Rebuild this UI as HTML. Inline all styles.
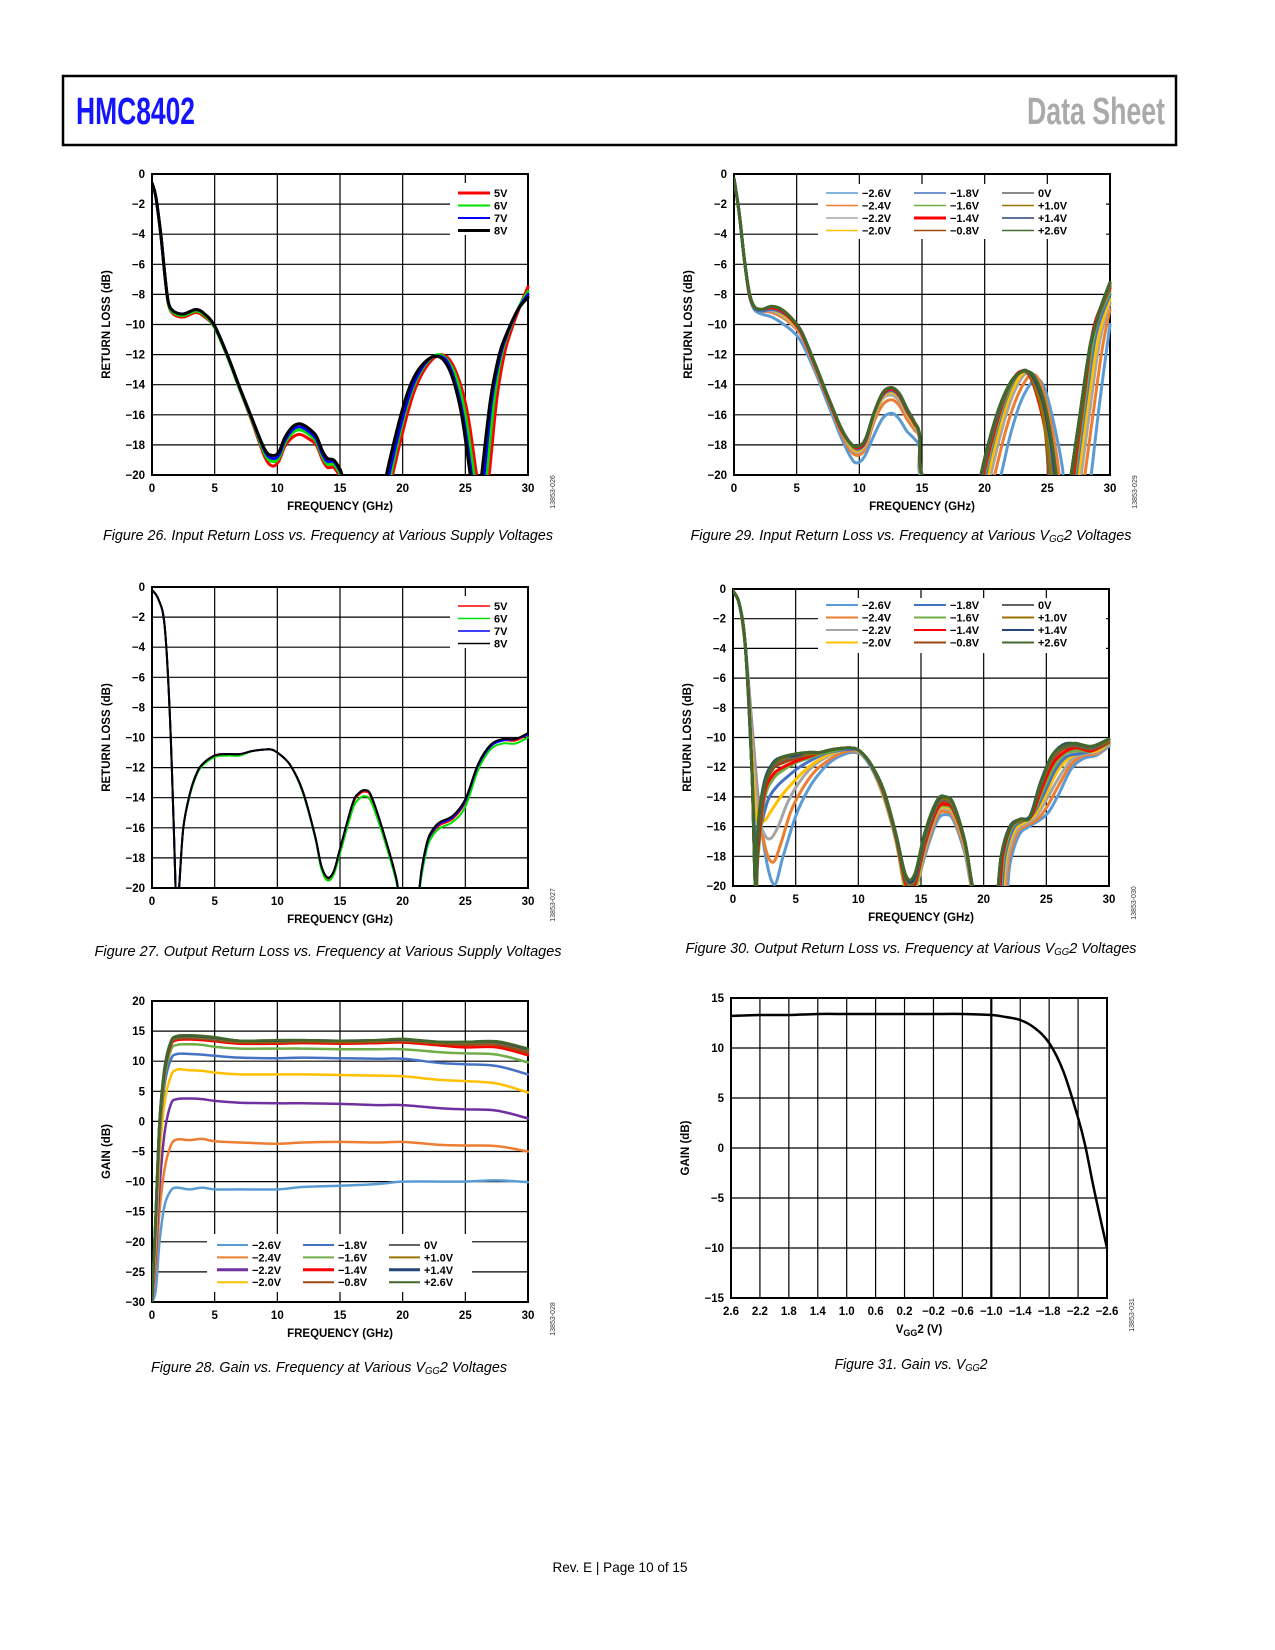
<!DOCTYPE html>
<html><head><meta charset="utf-8"><style>
html,body{margin:0;padding:0;background:#fff;}
svg{display:block;font-family:"Liberation Sans",sans-serif;}
</style></head><body>
<svg id="page" width="1275" height="1650" viewBox="0 0 1275 1650" xmlns="http://www.w3.org/2000/svg">
<rect x="63" y="76" width="1113" height="69" fill="none" stroke="#000" stroke-width="2.5"/>
<text x="76" y="124" font-size="38" font-weight="bold" fill="#1414ff" textLength="119" lengthAdjust="spacingAndGlyphs" font-family="Liberation Sans Narrow, Liberation Sans, sans-serif">HMC8402</text>
<text x="1027" y="124" font-size="38" font-weight="bold" fill="#aaaaaa" textLength="138" lengthAdjust="spacingAndGlyphs" font-family="Liberation Sans Narrow, Liberation Sans, sans-serif">Data Sheet</text>
<text x="620" y="1572" font-size="14" text-anchor="middle" textLength="135" lengthAdjust="spacingAndGlyphs">Rev. E | Page 10 of 15</text>
</svg>
<script>
// ---------- Figure 26 data ----------
const f26_5V=[[0,-0.6],[0.3,-1.5],[0.7,-4],[1,-6.5],[1.3,-8.6],[1.7,-9.3],[2.5,-9.5],[3.5,-9.2],[4.2,-9.5],[5,-10.2],[6,-12.1],[7,-14.3],[8,-16.5],[9,-18.8],[9.6,-19.4],[10.1,-19.1],[10.6,-18.1],[11.2,-17.5],[11.8,-17.3],[12.5,-17.6],[13.1,-18.0],[13.6,-19.0],[14,-19.5],[14.5,-19.5],[15,-20.1],[15.6,-21],[18.8,-22],[19.2,-20],[20.2,-16.5],[20.9,-14.5],[21.6,-13.2],[22.4,-12.3],[23.1,-12],[23.8,-12.4],[24.5,-13.7],[25.2,-16],[25.9,-20],[26.3,-22],[26.5,-22],[26.9,-20],[27.5,-15],[28.1,-12],[28.7,-10.3],[29.4,-8.7],[30,-7.5]];
const f26_6V=[[0,-0.6],[0.3,-1.5],[0.7,-4],[1,-6.5],[1.3,-8.6],[1.7,-9.2],[2.5,-9.4],[3.5,-9.1],[4.2,-9.4],[5,-10.2],[6,-12.1],[7,-14.3],[8,-16.4],[9,-18.6],[9.6,-19.1],[10.1,-18.9],[10.6,-17.9],[11.2,-17.2],[11.8,-17.0],[12.5,-17.3],[13.1,-17.8],[13.6,-18.8],[14,-19.3],[14.5,-19.3],[15,-19.9],[15.6,-20.8],[18.7,-22],[19.05,-20],[20.0,-16.5],[20.7,-14.5],[21.4,-13.2],[22.2,-12.3],[22.9,-12],[23.6,-12.4],[24.3,-13.6],[25.0,-16],[25.7,-20],[26.1,-22],[26.4,-22],[26.7,-20],[27.3,-15],[27.9,-12],[28.5,-10.4],[29.3,-8.8],[30,-7.8]];
const f26_7V=[[0,-0.6],[0.3,-1.5],[0.7,-4],[1,-6.5],[1.3,-8.5],[1.7,-9.1],[2.5,-9.3],[3.5,-9.0],[4.2,-9.3],[5,-10.1],[6,-12],[7,-14.2],[8,-16.3],[9,-18.4],[9.6,-18.9],[10.1,-18.7],[10.6,-17.7],[11.2,-17.0],[11.8,-16.8],[12.5,-17.1],[13.1,-17.6],[13.6,-18.6],[14,-19.1],[14.5,-19.1],[15,-19.7],[15.6,-20.6],[18.5,-22],[18.9,-20],[19.9,-16.5],[20.6,-14.5],[21.3,-13.2],[22.1,-12.3],[22.8,-12.1],[23.5,-12.4],[24.1,-13.6],[24.8,-16],[25.5,-20],[25.9,-22],[26.2,-22],[26.5,-20],[27.1,-15],[27.8,-12],[28.4,-10.5],[29.2,-9],[30,-8.0]];
const f26_8V=[[0,-0.6],[0.3,-1.5],[0.7,-4],[1,-6.5],[1.3,-8.5],[1.7,-9.1],[2.5,-9.3],[3.5,-9],[4.2,-9.3],[5,-10.1],[6,-12],[7,-14.2],[8,-16.3],[9,-18.3],[9.6,-18.7],[10.1,-18.5],[10.6,-17.5],[11.2,-16.8],[11.8,-16.6],[12.5,-16.9],[13.1,-17.4],[13.6,-18.4],[14,-18.9],[14.5,-19],[15,-19.6],[15.6,-20.5],[18.3,-22],[18.7,-20],[19.7,-16.5],[20.4,-14.5],[21.1,-13.2],[21.9,-12.4],[22.6,-12.1],[23.3,-12.4],[24,-13.6],[24.7,-16],[25.4,-20],[25.8,-22],[26.0,-22],[26.3,-20],[27.0,-15],[27.7,-12],[28.3,-10.6],[29.2,-9],[30,-8.2]];
// ---------- Figure 27 data ----------
const f27_5V=[[0,-0.2],[0.5,-0.8],[1,-2.5],[1.4,-8],[1.7,-15],[1.9,-20.5],[2.0,-22],[2.2,-19.5],[2.5,-16],[3,-13.8],[3.5,-12.5],[4,-11.8],[5,-11.2],[6,-11.1],[7,-11.1],[8,-10.9],[9,-10.8],[9.5,-10.8],[10,-11],[11,-11.8],[12,-13.5],[13,-16.5],[13.5,-18.6],[14,-19.4],[14.5,-19],[15,-17.5],[16,-14.5],[16.5,-13.8],[17,-13.6],[17.5,-14],[18.5,-16.5],[19.5,-19.5],[20,-22],[21,-22],[21.5,-19],[22,-17],[22.5,-16.2],[23,-15.8],[24,-15.4],[25,-14.3],[26,-12],[27,-10.6],[28,-10.2],[29,-10.2],[30,-9.8]];
const f27_6V=[[0,-0.2],[0.5,-0.8],[1,-2.5],[1.4,-8],[1.7,-15],[1.9,-20.5],[2.0,-22],[2.2,-19.5],[2.5,-16],[3,-13.9],[3.5,-12.6],[4,-11.9],[5,-11.3],[6,-11.2],[7,-11.2],[8,-10.9],[9,-10.8],[9.5,-10.8],[10,-11],[11,-11.8],[12,-13.6],[13,-16.6],[13.5,-18.7],[14,-19.5],[14.5,-19.1],[15,-17.7],[16,-14.8],[16.5,-14.1],[17,-13.9],[17.5,-14.3],[18.5,-16.7],[19.5,-19.6],[20,-22],[21,-22],[21.5,-19.2],[22,-17.2],[22.5,-16.4],[23,-16],[24,-15.6],[25,-14.6],[26,-12.2],[27,-10.8],[28,-10.4],[29,-10.4],[30,-10]];
const f27_7V=[[0,-0.2],[0.5,-0.8],[1,-2.5],[1.4,-8],[1.7,-15],[1.9,-20.5],[2.0,-22],[2.2,-19.5],[2.5,-16],[3,-13.8],[3.5,-12.5],[4,-11.8],[5,-11.2],[6,-11.1],[7,-11.1],[8,-10.9],[9,-10.8],[9.5,-10.8],[10,-11],[11,-11.8],[12,-13.5],[13,-16.5],[13.5,-18.5],[14,-19.3],[14.5,-18.9],[15,-17.4],[16,-14.4],[16.5,-13.7],[17,-13.5],[17.5,-13.9],[18.5,-16.4],[19.5,-19.4],[20,-22],[21,-22],[21.5,-18.9],[22,-16.9],[22.5,-16.1],[23,-15.7],[24,-15.3],[25,-14.2],[26,-11.9],[27,-10.6],[28,-10.2],[29,-10.1],[30,-9.8]];
const f27_8V=[[0,-0.2],[0.5,-0.8],[1,-2.5],[1.4,-8],[1.7,-15],[1.9,-20.5],[2.0,-22],[2.2,-19.5],[2.5,-16],[3,-13.8],[3.5,-12.5],[4,-11.8],[5,-11.2],[6,-11.1],[7,-11.1],[8,-10.9],[9,-10.8],[9.5,-10.8],[10,-11],[11,-11.8],[12,-13.5],[13,-16.5],[13.5,-18.5],[14,-19.3],[14.5,-18.9],[15,-17.4],[16,-14.4],[16.5,-13.7],[17,-13.5],[17.5,-13.9],[18.5,-16.4],[19.5,-19.4],[20,-22],[21,-22],[21.5,-18.8],[22,-16.8],[22.5,-16],[23,-15.6],[24,-15.2],[25,-14.1],[26,-11.8],[27,-10.5],[28,-10.1],[29,-10.1],[30,-9.7]];
// ---------- Figure 29 data ----------
const f29_m26=[[0,-0.3],[0.4,-2.5],[0.8,-5.5],[1.2,-8],[1.6,-9],[2.2,-9.3],[3,-9.5],[3.8,-9.9],[4.6,-10.4],[5.4,-11.2],[6.5,-13.2],[7.5,-15.3],[8.5,-17.4],[9.3,-18.8],[9.8,-19.2],[10.4,-18.8],[11.2,-17.3],[11.9,-16.2],[12.6,-15.9],[13.2,-16.3],[13.8,-17.1],[14.4,-17.6],[14.8,-18.2],[15.3,-20.5],[20.6,-22],[21.3,-20],[22,-17.5],[22.8,-15.3],[23.6,-14],[24.2,-13.6],[24.8,-14.3],[25.5,-16.5],[26.2,-19.5],[26.5,-22],[28.2,-22],[28.5,-20],[29.2,-15],[30,-10]];
const f29_m24=[[0,-0.3],[0.4,-2.5],[0.8,-5.5],[1.2,-7.9],[1.6,-8.9],[2.2,-9.1],[3,-9.2],[3.8,-9.5],[4.6,-10],[5.4,-10.8],[6.5,-13],[7.5,-15],[8.5,-17.1],[9.3,-18.4],[9.9,-18.7],[10.5,-18.2],[11.2,-16.4],[11.9,-15.3],[12.6,-15],[13.2,-15.4],[13.8,-16.3],[14.4,-17],[14.8,-17.6],[15.3,-20.5],[20.2,-22],[20.8,-20],[21.6,-17.3],[22.4,-15.2],[23.2,-13.8],[23.8,-13.3],[24.4,-13.8],[25.1,-15.8],[25.8,-19],[26.3,-22],[27.7,-22],[28,-20],[28.8,-15],[29.4,-11.5],[30,-9]];
const f29_m22=[[0,-0.3],[0.4,-2.5],[0.8,-5.5],[1.2,-7.9],[1.6,-8.9],[2.2,-9.1],[3,-9.1],[3.8,-9.4],[4.6,-9.9],[5.4,-10.7],[6.5,-12.9],[7.5,-14.9],[8.5,-16.9],[9.3,-18.2],[9.9,-18.5],[10.5,-18],[11.2,-16.1],[11.9,-14.9],[12.6,-14.7],[13.2,-15.1],[13.8,-16],[14.4,-16.8],[14.8,-17.5],[15.3,-20.5],[20.0,-22],[20.5,-20],[21.3,-17.2],[22.1,-15],[22.9,-13.6],[23.5,-13.2],[24.1,-13.6],[24.8,-15.5],[25.5,-18.5],[26,-22],[27.4,-22],[27.7,-20],[28.5,-15],[29.2,-11],[30,-8.6]];
const f29_m20=[[0,-0.3],[0.4,-2.5],[0.8,-5.5],[1.2,-7.9],[1.6,-8.9],[2.2,-9.1],[3,-9],[3.8,-9.3],[4.6,-9.8],[5.4,-10.6],[6.5,-12.8],[7.5,-14.9],[8.5,-16.9],[9.3,-18.1],[9.9,-18.4],[10.5,-17.9],[11.2,-16],[11.9,-14.8],[12.6,-14.5],[13.2,-14.9],[13.8,-15.9],[14.4,-16.7],[14.8,-17.4],[15.3,-20.5],[19.9,-22],[20.3,-20],[21.1,-17.2],[21.9,-15],[22.7,-13.6],[23.3,-13.1],[23.9,-13.5],[24.6,-15.2],[25.3,-18],[25.9,-22],[27.2,-22],[27.5,-20],[28.3,-15],[29.1,-10.8],[30,-8.3]];
const f29_m18=[[0,-0.3],[0.4,-2.5],[0.8,-5.5],[1.2,-7.9],[1.6,-8.9],[2.2,-9.1],[3,-9],[3.8,-9.2],[4.6,-9.7],[5.4,-10.6],[6.5,-12.8],[7.5,-14.9],[8.5,-16.9],[9.3,-18],[9.9,-18.3],[10.5,-17.8],[11.2,-15.9],[11.9,-14.7],[12.6,-14.4],[13.2,-14.8],[13.8,-15.8],[14.4,-16.6],[14.8,-17.4],[15.3,-20.5],[19.8,-22],[20.1,-20],[20.9,-17.2],[21.7,-15],[22.5,-13.5],[23.1,-13.1],[23.7,-13.4],[24.4,-15],[25.1,-17.8],[25.7,-22],[27,-22],[27.3,-20],[28.1,-15],[28.9,-10.6],[30,-8]];
const f29_m16=[[0,-0.3],[0.4,-2.5],[0.8,-5.5],[1.2,-7.9],[1.6,-8.8],[2.2,-9],[3,-8.9],[3.8,-9.1],[4.6,-9.7],[5.4,-10.6],[6.5,-12.8],[7.5,-14.9],[8.5,-16.9],[9.3,-18],[9.9,-18.2],[10.5,-17.7],[11.2,-15.9],[11.9,-14.6],[12.6,-14.3],[13.2,-14.7],[13.8,-15.7],[14.4,-16.6],[14.8,-17.4],[15.3,-20.5],[19.6,-22],[20,-20],[20.8,-17.3],[21.6,-15.1],[22.4,-13.6],[23,-13.1],[23.6,-13.4],[24.3,-14.9],[25,-17.6],[25.6,-22],[26.9,-22],[27.2,-20],[28,-15],[28.8,-10.4],[30,-7.8]];
const f29_m14=[[0,-0.3],[0.4,-2.5],[0.8,-5.5],[1.2,-7.9],[1.6,-8.8],[2.2,-9],[3,-8.9],[3.8,-9.1],[4.6,-9.7],[5.4,-10.6],[6.5,-12.8],[7.5,-14.9],[8.5,-16.9],[9.3,-17.9],[9.9,-18.2],[10.5,-17.7],[11.2,-15.8],[11.9,-14.6],[12.6,-14.3],[13.2,-14.7],[13.8,-15.7],[14.4,-16.6],[14.8,-17.3],[15.3,-20.5],[19.5,-22],[19.9,-20],[20.7,-17.3],[21.5,-15.1],[22.3,-13.6],[22.9,-13.1],[23.5,-13.3],[24.2,-14.8],[24.9,-17.4],[25.5,-22],[26.8,-22],[27.1,-20],[27.9,-15],[28.7,-10.2],[30,-7.6]];
const f29_m08=[[0,-0.3],[0.4,-2.5],[0.8,-5.5],[1.2,-7.8],[1.6,-8.8],[2.2,-9],[3,-8.8],[3.8,-9],[4.6,-9.6],[5.4,-10.5],[6.5,-12.7],[7.5,-14.8],[8.5,-16.8],[9.3,-17.9],[9.9,-18.1],[10.5,-17.6],[11.2,-15.8],[11.9,-14.5],[12.6,-14.2],[13.2,-14.6],[13.8,-15.6],[14.4,-16.5],[14.8,-17.3],[15.3,-20.5],[19.4,-22],[19.8,-20],[20.6,-17.3],[21.4,-15.2],[22.2,-13.8],[22.8,-13.2],[23.4,-13.2],[24.1,-14.4],[24.8,-16.8],[25.4,-22],[26.7,-22],[27,-20],[27.8,-15.5],[28.5,-11],[30,-7.5]];
const f29_0V=[[0,-0.3],[0.4,-2.5],[0.8,-5.5],[1.2,-7.8],[1.6,-8.8],[2.2,-9],[3,-8.8],[3.8,-9],[4.6,-9.6],[5.4,-10.5],[6.5,-12.7],[7.5,-14.8],[8.5,-16.8],[9.3,-17.9],[9.9,-18.1],[10.5,-17.6],[11.2,-15.8],[11.9,-14.5],[12.6,-14.2],[13.2,-14.6],[13.8,-15.6],[14.4,-16.5],[14.8,-17.3],[15.3,-20.5],[19.4,-22],[19.8,-20],[20.6,-17.3],[21.4,-15.2],[22.2,-13.8],[22.8,-13.2],[23.4,-13.1],[24.1,-14.2],[24.8,-16.5],[25.5,-22],[26.6,-22],[26.9,-20],[27.7,-15.5],[28.4,-11.5],[29.2,-9.2],[30,-7.4]];
const f29_p10=[[0,-0.3],[0.4,-2.5],[0.8,-5.5],[1.2,-7.8],[1.6,-8.8],[2.2,-9],[3,-8.8],[3.8,-9],[4.6,-9.6],[5.4,-10.5],[6.5,-12.7],[7.5,-14.8],[8.5,-16.8],[9.3,-17.9],[9.9,-18.1],[10.5,-17.6],[11.2,-15.8],[11.9,-14.5],[12.6,-14.2],[13.2,-14.6],[13.8,-15.6],[14.4,-16.5],[14.8,-17.3],[15.3,-20.5],[19.3,-22],[19.7,-20],[20.5,-17.3],[21.3,-15.2],[22.1,-13.8],[22.8,-13.2],[23.4,-13.1],[24,-14],[24.7,-16.2],[25.5,-21],[25.9,-22],[26.6,-22],[26.9,-20],[27.6,-16],[28.3,-12],[29,-9.6],[30,-7.3]];
const f29_p14=[[0,-0.3],[0.4,-2.5],[0.8,-5.5],[1.2,-7.8],[1.6,-8.8],[2.2,-9],[3,-8.8],[3.8,-9],[4.6,-9.6],[5.4,-10.5],[6.5,-12.7],[7.5,-14.8],[8.5,-16.8],[9.3,-17.9],[9.9,-18.1],[10.5,-17.6],[11.2,-15.8],[11.9,-14.5],[12.6,-14.2],[13.2,-14.6],[13.8,-15.6],[14.4,-16.5],[14.8,-17.3],[15.3,-20.5],[19.3,-22],[19.7,-20],[20.5,-17.3],[21.3,-15.2],[22.1,-13.8],[22.8,-13.2],[23.4,-13.1],[24,-13.7],[24.7,-15.3],[25.4,-18.5],[25.9,-22],[26.6,-22],[26.9,-20],[27.6,-16],[28.3,-12],[29,-9.5],[30,-7.2]];
const f29_p26=[[0,-0.3],[0.4,-2.5],[0.8,-5.5],[1.2,-7.8],[1.6,-8.8],[2.2,-9],[3,-8.8],[3.8,-9],[4.6,-9.6],[5.4,-10.5],[6.5,-12.7],[7.5,-14.8],[8.5,-16.8],[9.3,-17.9],[9.9,-18.1],[10.5,-17.6],[11.2,-15.8],[11.9,-14.5],[12.6,-14.2],[13.2,-14.6],[13.8,-15.6],[14.4,-16.5],[14.8,-17.3],[15.3,-20.5],[19.3,-22],[19.7,-20],[20.5,-17.3],[21.3,-15.2],[22.1,-13.8],[22.8,-13.2],[23.4,-13.1],[24,-13.5],[24.7,-15],[25.3,-17.5],[25.8,-20.5],[26.1,-22],[26.6,-22],[26.9,-20],[27.6,-16],[28.3,-12],[29,-9.5],[30,-7.2]];
// ---------- Figure 30 data ----------
const f30_m26=[[0,-0.2],[0.5,-1],[1,-4],[1.5,-9],[2,-14],[2.6,-18],[3.3,-19.9],[4,-18],[5,-15.3],[6,-13.5],[7,-12.3],[8,-11.5],[9,-11.1],[9.6,-11],[10.3,-11.2],[11.2,-12.3],[12.2,-14.3],[13.2,-17.3],[14,-20.5],[14.5,-20.5],[15.3,-18],[16.3,-15.6],[17,-15.2],[17.6,-15.6],[18.5,-17.8],[19.4,-21],[21.5,-22],[22.1,-18.5],[22.8,-16.6],[23.6,-16],[24.4,-15.6],[25.2,-15],[26,-13.8],[27,-12.1],[28,-11.4],[29,-11.2],[30,-10.6]];
const f30_m24=[[0,-0.2],[0.5,-1],[1,-4],[1.5,-9.5],[2,-14.5],[2.6,-17.5],[3.2,-18.4],[3.8,-17.2],[4.6,-15],[5.5,-13.5],[6.5,-12.3],[7.5,-11.6],[8.5,-11.1],[9.4,-10.9],[10.2,-11.1],[11.1,-12.1],[12.1,-14.1],[13.1,-17.1],[13.9,-20.5],[14.5,-20.5],[15.3,-17.8],[16.3,-15.3],[17,-15],[17.6,-15.4],[18.5,-17.6],[19.4,-21],[21.4,-22],[22,-18.3],[22.7,-16.4],[23.5,-15.9],[24.3,-15.5],[25.1,-14.6],[26,-13.2],[27,-11.8],[28,-11.2],[29,-11.1],[30,-10.5]];
const f30_m22=[[0,-0.2],[0.5,-1],[1,-4],[1.5,-10],[2,-15],[2.5,-16.5],[3,-16.8],[3.6,-16],[4.4,-14.3],[5.3,-13],[6.3,-12],[7.3,-11.4],[8.3,-11],[9.3,-10.8],[10.1,-11],[11,-12],[12,-14],[13,-17],[13.8,-20.5],[14.5,-20.5],[15.3,-17.6],[16.3,-15.1],[17,-14.8],[17.6,-15.2],[18.5,-17.4],[19.4,-21],[21.3,-22],[21.9,-18.2],[22.6,-16.3],[23.4,-15.8],[24.2,-15.3],[25,-14.2],[26,-12.7],[27,-11.5],[28,-11.1],[29,-11],[30,-10.5]];
const f30_m20=[[0,-0.2],[0.5,-1],[1,-4],[1.5,-11],[1.9,-15.5],[2.5,-15.6],[3,-15],[3.8,-14],[4.6,-13.2],[5.5,-12.4],[6.5,-11.7],[7.5,-11.2],[8.5,-10.9],[9.3,-10.8],[10.1,-10.9],[11,-11.9],[12,-13.9],[13,-16.9],[13.8,-20.5],[14.5,-20.5],[15.3,-17.4],[16.3,-15],[17,-14.7],[17.6,-15.1],[18.5,-17.3],[19.4,-21],[21.2,-22],[21.8,-18],[22.5,-16.2],[23.3,-15.7],[24.1,-15.2],[24.9,-14],[25.8,-12.4],[26.8,-11.4],[28,-11],[29,-10.9],[30,-10.4]];
const f30_m18=[[0,-0.2],[0.5,-1],[1,-4],[1.5,-12],[1.8,-17],[2.2,-16],[2.8,-14.2],[3.5,-13.3],[4.4,-12.6],[5.3,-12],[6.3,-11.5],[7.3,-11.1],[8.3,-10.9],[9.3,-10.8],[10.1,-10.9],[11,-11.9],[12,-13.8],[13,-16.8],[13.8,-20.2],[14.5,-20.2],[15.3,-17.3],[16.3,-14.9],[17,-14.6],[17.6,-15],[18.5,-17.2],[19.4,-21],[21.1,-22],[21.7,-18],[22.4,-16.1],[23.2,-15.6],[24,-15.1],[24.8,-13.8],[25.7,-12.2],[26.6,-11.3],[27.6,-11.1],[28.6,-10.9],[30,-10.4]];
const f30_m16=[[0,-0.2],[0.5,-1],[1,-4],[1.5,-12],[1.8,-20.5],[2.0,-18],[2.5,-14.2],[3.2,-12.8],[4,-12.2],[5,-11.7],[6,-11.4],[7,-11.1],[8,-10.9],[9.3,-10.7],[10.1,-10.9],[11,-11.8],[12,-13.8],[13,-16.8],[13.8,-20.3],[14.5,-20.3],[15.3,-17.3],[16.3,-14.9],[17,-14.6],[17.6,-15],[18.5,-17.2],[19.4,-21],[21,-22],[21.6,-18],[22.3,-16],[23.1,-15.6],[23.9,-15.2],[24.7,-13.6],[25.6,-12],[26.5,-11.1],[27.5,-10.9],[28.6,-10.9],[30,-10.4]];
const f30_m14=[[0,-0.2],[0.5,-1],[1,-4],[1.5,-12],[1.8,-20.5],[2.0,-17.5],[2.5,-13.8],[3.2,-12.5],[4,-12],[5,-11.6],[6,-11.3],[7,-11],[8,-10.8],[9.3,-10.7],[10.1,-10.9],[11,-11.8],[12,-13.7],[13,-16.7],[13.8,-19.9],[14.5,-19.9],[15.3,-17.2],[16.3,-14.8],[17,-14.5],[17.6,-14.9],[18.5,-17.1],[19.4,-21],[21,-22],[21.5,-18],[22.2,-16],[23,-15.6],[23.8,-15.3],[24.6,-13.5],[25.5,-11.8],[26.4,-11],[27.4,-10.7],[28.6,-10.9],[30,-10.3]];
const f30_m08=[[0,-0.2],[0.5,-1],[1,-4],[1.5,-12],[1.8,-20.5],[2.0,-17],[2.5,-13.5],[3.2,-12.1],[4,-11.7],[5,-11.4],[6,-11.2],[7,-11],[8,-10.8],[9.3,-10.7],[10.1,-10.9],[11,-11.8],[12,-13.6],[13,-16.6],[13.8,-19.7],[14.5,-19.7],[15.3,-17],[16.3,-14.6],[17,-14.3],[17.6,-14.8],[18.5,-17],[19.4,-21],[20.9,-22],[21.4,-18],[22.1,-16],[22.9,-15.6],[23.7,-15.3],[24.5,-13.4],[25.4,-11.6],[26.3,-10.8],[27.3,-10.6],[28.6,-10.8],[30,-10.3]];
const f30_0V=[[0,-0.2],[0.5,-1],[1,-4],[1.5,-12],[1.8,-20.5],[2.0,-16.5],[2.5,-13.3],[3.2,-11.9],[4,-11.5],[5,-11.3],[6,-11.1],[7,-11],[8,-10.8],[9.3,-10.7],[10.1,-10.9],[11,-11.8],[12,-13.6],[13,-16.6],[13.8,-19.6],[14.5,-19.6],[15.3,-16.8],[16.3,-14.5],[17,-14.2],[17.6,-14.7],[18.5,-17],[19.4,-21],[20.9,-22],[21.4,-18],[22.1,-16],[22.9,-15.6],[23.7,-15.3],[24.5,-13.3],[25.4,-11.5],[26.3,-10.7],[27.3,-10.5],[28.6,-10.7],[30,-10.2]];
const f30_p10=[[0,-0.2],[0.5,-1],[1,-4],[1.5,-12],[1.8,-20.5],[2.0,-16.2],[2.5,-13.1],[3.2,-11.8],[4,-11.4],[5,-11.2],[6,-11.1],[7,-11],[8,-10.8],[9.3,-10.7],[10.1,-10.9],[11,-11.8],[12,-13.5],[13,-16.5],[13.8,-19.5],[14.5,-19.5],[15.3,-16.6],[16.3,-14.4],[17,-14.1],[17.6,-14.6],[18.5,-17],[19.4,-21],[20.8,-22],[21.4,-18],[22.1,-16],[22.9,-15.6],[23.7,-15.3],[24.5,-13.2],[25.4,-11.4],[26.3,-10.6],[27.3,-10.4],[28.6,-10.6],[30,-10.2]];
const f30_p14=[[0,-0.2],[0.5,-1],[1,-4],[1.5,-12],[1.8,-20.5],[2.0,-16],[2.5,-13],[3.2,-11.7],[4,-11.3],[5,-11.2],[6,-11],[7,-11],[8,-10.8],[9.3,-10.7],[10.1,-10.9],[11,-11.8],[12,-13.5],[13,-16.5],[13.8,-19.4],[14.5,-19.4],[15.3,-16.5],[16.3,-14.3],[17,-14],[17.6,-14.5],[18.5,-17],[19.4,-21],[20.8,-22],[21.4,-18],[22.1,-16],[22.9,-15.5],[23.7,-15.3],[24.5,-13.1],[25.4,-11.3],[26.3,-10.5],[27.3,-10.4],[28.6,-10.6],[30,-10.1]];
const f30_p26=[[0,-0.1],[0.5,-1],[1,-4],[1.5,-12],[1.8,-20.5],[2.0,-15.8],[2.5,-13.2],[3.2,-11.8],[4,-11.3],[5,-11.1],[6,-11],[7,-11],[8,-10.8],[9.3,-10.7],[10.1,-10.9],[11,-11.8],[12,-13.5],[13,-16.5],[13.8,-19.3],[14.5,-19.2],[15.3,-16.4],[16.3,-14.2],[17,-14],[17.6,-14.5],[18.5,-17],[19.4,-21],[20.8,-22],[21.4,-18],[22.1,-16.1],[22.9,-15.5],[23.7,-15.4],[24.5,-13.2],[25.4,-11.3],[26.3,-10.6],[27.3,-10.4],[28.6,-10.6],[30,-10.1]];
// ---------- Figure 28 data ----------
const f28_m26=[[0,-30],[0.3,-28],[0.6,-20],[1,-14],[1.5,-11.5],[2,-11],[3,-11.3],[4,-11],[5,-11.3],[7,-11.3],[10,-11.3],[12,-10.9],[15,-10.7],[18,-10.4],[20,-10],[23,-10],[25,-10],[27.5,-9.8],[30,-10.1]];
const f28_m24=[[0,-30],[0.3,-24],[0.6,-15],[1,-8],[1.5,-4],[2,-3],[3,-3.1],[4,-2.9],[5,-3.3],[7,-3.5],[10,-3.7],[12,-3.5],[15,-3.4],[18,-3.5],[20,-3.4],[23,-3.9],[25,-4],[27.5,-4.1],[30,-5]];
const f28_m22=[[0,-30],[0.3,-22],[0.6,-11],[1,-2],[1.5,2.8],[2,3.7],[3,3.8],[4,3.7],[5,3.4],[7,3.1],[10,3],[12,3],[15,2.9],[18,2.7],[20,2.7],[23,2.2],[25,2],[27.5,1.8],[30,0.5]];
const f28_m20=[[0,-30],[0.3,-20],[0.6,-6],[1,3],[1.5,7.5],[2,8.6],[3,8.5],[4,8.4],[5,8.1],[7,7.8],[10,7.8],[12,7.8],[15,7.7],[18,7.6],[20,7.5],[23,6.9],[25,6.7],[27.5,6.3],[30,4.8]];
const f28_m18=[[0,-30],[0.3,-18],[0.6,-3],[1,6],[1.5,10.3],[2,11.2],[3,11.2],[4,11.1],[5,10.9],[7,10.6],[10,10.5],[12,10.6],[15,10.5],[18,10.4],[20,10.4],[23,9.7],[25,9.5],[27.5,9.2],[30,7.8]];
const f28_m16=[[0,-30],[0.3,-17],[0.6,-2],[1,7],[1.5,11.8],[2,12.7],[3,12.8],[4,12.7],[5,12.4],[7,12.1],[10,12.1],[12,12.1],[15,12],[18,12],[20,12],[23,11.5],[25,11.3],[27.5,11.1],[30,9.8]];
const f28_m14=[[0,-30],[0.3,-16],[0.6,-1],[1,8],[1.5,12.6],[2,13.5],[3,13.6],[4,13.5],[5,13.3],[7,12.9],[10,12.9],[12,13],[15,12.9],[18,13],[20,13.1],[23,12.6],[25,12.3],[27.5,12.3],[30,11]];
const f28_m08=[[0,-30],[0.3,-16],[0.6,-1],[1,8],[1.5,12.8],[2,13.7],[3,13.8],[4,13.7],[5,13.5],[7,13.1],[10,13.1],[12,13.2],[15,13.1],[18,13.2],[20,13.3],[23,12.9],[25,12.7],[27.5,12.7],[30,11.4]];
const f28_0V=[[0,-30],[0.3,-15],[0.6,0],[1,8.5],[1.5,13],[2,13.9],[3,14],[4,13.9],[5,13.7],[7,13.3],[10,13.3],[12,13.4],[15,13.3],[18,13.4],[20,13.5],[23,13.1],[25,13],[27.5,13],[30,11.8]];
const f28_p10=[[0,-30],[0.3,-15],[0.6,0],[1,8.5],[1.5,13.1],[2,14],[3,14.1],[4,14],[5,13.8],[7,13.3],[10,13.3],[12,13.4],[15,13.3],[18,13.4],[20,13.5],[23,13.1],[25,13.1],[27.5,13.1],[30,11.9]];
const f28_p14=[[0,-30],[0.3,-15],[0.6,0],[1,8.5],[1.5,13.2],[2,14.1],[3,14.2],[4,14.1],[5,13.9],[7,13.4],[10,13.4],[12,13.5],[15,13.4],[18,13.5],[20,13.6],[23,13.2],[25,13.2],[27.5,13.2],[30,12]];
const f28_p26=[[0,-30],[0.3,-15],[0.6,0],[1,9],[1.5,13.3],[2,14.2],[3,14.3],[4,14.2],[5,14],[7,13.4],[10,13.5],[12,13.5],[15,13.4],[18,13.5],[20,13.7],[23,13.2],[25,13.2],[27.5,13.3],[30,12.1]];
// ---------- Figure 31 data ----------
const f31_vgg2=[2.6,2.2,1.8,1.4,1.0,0.6,0.2,-0.2,-0.6,-1.0,-1.2,-1.4,-1.6,-1.8,-2.0,-2.2,-2.3,-2.4,-2.5,-2.6];
const f31_gain=[13.2,13.3,13.3,13.4,13.4,13.4,13.4,13.4,13.4,13.3,13.1,12.8,12.0,10.5,7.6,3.0,0.2,-3.4,-6.8,-10];
const f31_xticks=[2.6,2.2,1.8,1.4,1.0,0.6,0.2,-0.2,-0.6,-1.0,-1.4,-1.8,-2.2,-2.6];
const f31_xlabels=["2.6","2.2","1.8","1.4","1.0","0.6","0.2","−0.2","−0.6","−1.0","−1.4","−1.8","−2.2","−2.6"];
const f31_yticks=[15,10,5,0,-5,-10,-15];
// ---------- shared ticks ----------
const rl_yticks=[0,-2,-4,-6,-8,-10,-12,-14,-16,-18,-20];
const gain_yticks=[20,15,10,5,0,-5,-10,-15,-20,-25,-30];
const freq_xticks=[0,5,10,15,20,25,30];
const vgg_names=["−2.6V","−2.4V","−2.2V","−2.0V","−1.8V","−1.6V","−1.4V","−0.8V","0V","+1.0V","+1.4V","+2.6V"];

const NS="http://www.w3.org/2000/svg";
const svg=document.getElementById('page');
function mk(tag,attrs,parent){const e=document.createElementNS(NS,tag);for(const k in attrs)e.setAttribute(k,attrs[k]);(parent||svg).appendChild(e);return e;}
function fmt(v){return v<0?"−"+Math.abs(v):String(v);}
let clipId=0;
function smooth(pts){
  let d="M"+pts[0][0].toFixed(1)+","+pts[0][1].toFixed(1);
  for(let i=0;i<pts.length-1;i++){
    const p0=pts[Math.max(0,i-1)],p1=pts[i],p2=pts[i+1],p3=pts[Math.min(pts.length-1,i+2)];
    const c1x=p1[0]+(p2[0]-p0[0])/6,c1y=p1[1]+(p2[1]-p0[1])/6;
    const c2x=p2[0]-(p3[0]-p1[0])/6,c2y=p2[1]-(p3[1]-p1[1])/6;
    d+=" C"+c1x.toFixed(1)+","+c1y.toFixed(1)+" "+c2x.toFixed(1)+","+c2y.toFixed(1)+" "+p2[0].toFixed(1)+","+p2[1].toFixed(1);
  }
  return d;
}
function chart(o){
  const g=mk('g',{});
  
  
  const sx=v=>o.x+(v-o.xmin)/(o.xmax-o.xmin)*o.w;
  const sy=v=>o.y+(o.ymax-v)/(o.ymax-o.ymin)*o.h;
  // gridlines
  o.yticks.forEach(t=>{
    const l=mk('line',{x1:o.x,x2:o.x+o.w,y1:sy(t),y2:sy(t),stroke:'#000','stroke-width':1.2},g);
    
    
    const tx=mk('text',{x:o.x-7,y:sy(t)+4,'font-size':11.5,'font-weight':'bold','text-anchor':'end'},g);
    tx.textContent=fmt(t);
    
    
  });
  o.xticks.forEach((t,i)=>{
    const heavy=o.heavyX!==undefined&&t===o.heavyX;
    const l=mk('line',{x1:sx(t),x2:sx(t),y1:o.y,y2:o.y+o.h,stroke:'#000','stroke-width':heavy?2.2:1.2},g);
    
    
    const tx=mk('text',{x:sx(t),y:o.y+o.h+17,'font-size':11.5,'font-weight':'bold','text-anchor':'middle'},g);
    tx.textContent=o.xlabels?o.xlabels[i]:fmt(t);
    
    
  });
  // legend background
  if(o.legendBox){
    const b=o.legendBox;
    const r=mk('rect',{x:b[0],y:b[1],width:b[2],height:b[3],fill:'#fff'},g);
    
    
  }
  // frame
  const fr=mk('rect',{x:o.x,y:o.y,width:o.w,height:o.h,fill:'none',stroke:'#000','stroke-width':2},g);
  
  
  // clip
  clipId++;
  const cp=mk('clipPath',{id:'cp'+clipId},g);
  mk('rect',{x:o.x,y:o.y-2,width:o.w+2,height:o.h+2},cp);
  const sg=mk('g',{'clip-path':'url(#cp'+clipId+')'},g);
  o.series.forEach(s=>{
    const pts=s.data.map(p=>[sx(p[0]),sy(p[1])]);
    const p=mk('path',{d:smooth(pts),fill:'none',stroke:s.color,'stroke-width':s.w||2.5,'stroke-linejoin':'round','stroke-linecap':'round'},sg);
    
    
  });
  // legend entries
  if(o.legend){
    o.legend.forEach(e=>{
      const l=mk('line',{x1:e.x,x2:e.x+e.len,y1:e.y,y2:e.y,stroke:e.color,'stroke-width':e.w||2},g);
      
      
      const t=mk('text',{x:e.x+e.len+4,y:e.y+4,'font-size':11,'font-weight':'bold'},g);
      t.textContent=e.label;
      
      
    });
  }
  // axis titles
  const yt=mk('text',{x:0,y:0,'font-size':11.5,'font-weight':'bold','text-anchor':'middle',transform:'translate('+(o.x-42)+','+(o.y+o.h/2)+') rotate(-90)'},g);
  yt.textContent=o.ytitle;
  
  
  const xt=mk('text',{x:o.x+o.w/2,y:o.y+o.h+35,'font-size':11.5,'font-weight':'bold','text-anchor':'middle'},g);
  if(o.xtitleHTML){xt.innerHTML=o.xtitleHTML;}else{xt.textContent=o.xtitle;}
  
  
  // figure code
  const fc=mk('text',{x:0,y:0,'font-size':7,'text-anchor':'middle',fill:'#333',transform:'translate('+(o.x+o.w+27)+','+(o.y+o.h+17)+') rotate(-90)'},g);
  fc.textContent=o.code;
  
  
  // caption
  const c=mk('text',{x:o.capX,y:o.capY,'font-size':15,'font-style':'italic','text-anchor':'middle',textLength:o.capLen,lengthAdjust:'spacingAndGlyphs'},g);
  c.innerHTML=o.caption;
  
  
}
function vggLegend(x0,y0,colors,widths,dx,dy,len){
  const out=[];
  for(let i=0;i<12;i++){
    const col=Math.floor(i/4),row=i%4;
    out.push({x:x0+col*dx,y:y0+row*dy,len:len,color:colors[i],w:widths?widths[i]:2,label:vgg_names[i]});
  }
  return out;
}
const sub='V<tspan font-size="10" dy="2">GG</tspan><tspan dy="-2">2</tspan>';
// Figure 26
chart({name:'figure-26-input-return-loss-supply',x:152,y:174,w:376,h:301,xmin:0,xmax:30,ymin:-20,ymax:0,yticks:rl_yticks,xticks:freq_xticks,
 ytitle:'RETURN LOSS (dB)',xtitle:'FREQUENCY (GHz)',code:'13853-026',
 legendBox:[450,183,78,52],
 series:[{key:'5v',color:'#ff0000',data:f26_5V,w:3},{key:'6v',color:'#00e000',data:f26_6V,w:3},{key:'7v',color:'#0000ff',data:f26_7V,w:3},{key:'8v',color:'#000',data:f26_8V,w:3}],
 legend:[{x:458,y:193,len:32,color:'#ff0000',w:3,label:'5V'},{x:458,y:205.5,len:32,color:'#00e000',w:2,label:'6V'},{x:458,y:218,len:32,color:'#0000ff',w:2,label:'7V'},{x:458,y:230.5,len:32,color:'#000',w:3,label:'8V'}],
 capX:328,capY:540,capLen:450,caption:'Figure 26. Input Return Loss vs. Frequency at Various Supply Voltages'});
// Figure 27
chart({name:'figure-27-output-return-loss-supply',x:152,y:587,w:376,h:301,xmin:0,xmax:30,ymin:-20,ymax:0,yticks:rl_yticks,xticks:freq_xticks,
 ytitle:'RETURN LOSS (dB)',xtitle:'FREQUENCY (GHz)',code:'13853-027',
 legendBox:[450,596,78,52],
 series:[{key:'5v',color:'#ff0000',data:f27_5V,w:2},{key:'6v',color:'#00e000',data:f27_6V,w:2},{key:'7v',color:'#0000ff',data:f27_7V,w:2},{key:'8v',color:'#000',data:f27_8V,w:2}],
 legend:[{x:458,y:606,len:32,color:'#ff0000',w:1.5,label:'5V'},{x:458,y:618.5,len:32,color:'#00e000',w:1.5,label:'6V'},{x:458,y:631,len:32,color:'#0000ff',w:1.5,label:'7V'},{x:458,y:643.5,len:32,color:'#000',w:1.5,label:'8V'}],
 capX:328,capY:956,capLen:467,caption:'Figure 27. Output Return Loss vs. Frequency at Various Supply Voltages'});
// Figure 28
const c28=['#5b9bd5','#ed7d31','#7030a0','#ffc000','#4472c4','#70ad47','#ff0000','#9e480e','#636363','#997300','#264478','#43682b'];
const w28=[2,2,3,2,2,2,3,2,2,2,3,2];
chart({name:'figure-28-gain-vs-frequency',x:152,y:1001,w:376,h:301,xmin:0,xmax:30,ymin:-30,ymax:20,yticks:gain_yticks,xticks:freq_xticks,
 ytitle:'GAIN (dB)',xtitle:'FREQUENCY (GHz)',code:'13853-028',
 legendBox:[207,1234,265,58],
 series:[['m26',f28_m26],['m24',f28_m24],['m22',f28_m22],['m20',f28_m20],['m18',f28_m18],['m16',f28_m16],['m14',f28_m14],['m08',f28_m08],['0v',f28_0V],['p10',f28_p10],['p14',f28_p14],['p26',f28_p26]].map((a,i)=>({key:a[0],data:a[1],color:c28[i],w:2.5})),
 legend:vggLegend(217,1245,c28,w28,86,12.4,31),
 capX:329,capY:1372,capLen:356,caption:'Figure 28. Gain vs. Frequency at Various '+sub+' Voltages'});
// Figure 29
const c29=['#5b9bd5','#ed7d31','#a5a5a5','#ffc000','#4472c4','#70ad47','#ff0000','#9e480e','#636363','#997300','#264478','#43682b'];
const w29=[1.5,1.5,1.5,1.5,1.5,1.5,3,1.5,1.5,1.5,1.5,1.5];
chart({name:'figure-29-input-return-loss-vgg2',x:734,y:174,w:376,h:301,xmin:0,xmax:30,ymin:-20,ymax:0,yticks:rl_yticks,xticks:freq_xticks,
 ytitle:'RETURN LOSS (dB)',xtitle:'FREQUENCY (GHz)',code:'13853-029',
 legendBox:[818,184,288,55],
 series:[['m26',f29_m26],['m24',f29_m24],['m22',f29_m22],['m20',f29_m20],['m18',f29_m18],['m16',f29_m16],['m14',f29_m14],['m08',f29_m08],['0v',f29_0V],['p10',f29_p10],['p14',f29_p14],['p26',f29_p26]].map((a,i)=>({key:a[0],data:a[1],color:c29[i],w:3})),
 legend:vggLegend(826,193,c29,w29,88,12.5,32),
 capX:911,capY:540,capLen:441,caption:'Figure 29. Input Return Loss vs. Frequency at Various '+sub+' Voltages'});
// Figure 30
const c30=['#5b9bd5','#ed7d31','#a5a5a5','#ffc000','#4472c4','#70ad47','#ff0000','#9e480e','#636363','#997300','#264478','#43682b'];
chart({name:'figure-30-output-return-loss-vgg2',x:733,y:589,w:376,h:297,xmin:0,xmax:30,ymin:-20,ymax:0,yticks:rl_yticks,xticks:freq_xticks,
 ytitle:'RETURN LOSS (dB)',xtitle:'FREQUENCY (GHz)',code:'13853-030',
 legendBox:[818,598,288,55],
 series:[['m26',f30_m26],['m24',f30_m24],['m22',f30_m22],['m20',f30_m20],['m18',f30_m18],['m16',f30_m16],['m14',f30_m14],['m08',f30_m08],['0v',f30_0V],['p10',f30_p10],['p14',f30_p14],['p26',f30_p26]].map((a,i)=>({key:a[0],data:a[1],color:c30[i],w:3})),
 legend:vggLegend(826,605,c30,null,88,12.5,32),
 capX:911,capY:953,capLen:451,caption:'Figure 30. Output Return Loss vs. Frequency at Various '+sub+' Voltages'});
// Figure 31
chart({name:'figure-31-gain-vs-vgg2',x:731,y:998,w:376,h:300,xmin:2.6,xmax:-2.6,ymin:-15,ymax:15,yticks:f31_yticks,xticks:f31_xticks,xlabels:f31_xlabels,heavyX:-1.0,
 ytitle:'GAIN (dB)',xtitleHTML:'V<tspan font-size="9" dy="3">GG</tspan><tspan dy="-3">2 (V)</tspan>',code:'13853-031',
 series:[{key:'gain',color:'#000',w:2.5,data:f31_vgg2.map((v,i)=>[v,f31_gain[i]])}],
 capX:911,capY:1369,capLen:153,caption:'Figure 31. Gain vs. '+sub});
</script>
</body></html>
